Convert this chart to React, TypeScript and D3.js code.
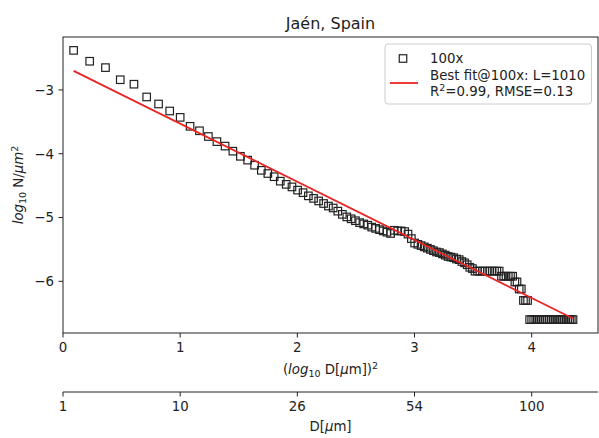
import React from "react";
import * as d3 from "d3";

const diameters: number[] = d3.range(2, 123);
const logDensity: number[] = [
  -2.38, -2.55, -2.65, -2.84, -2.91, -3.11, -3.22, -3.33, -3.43, -3.57,
  -3.64, -3.73, -3.81, -3.88, -3.96, -4.04, -4.10, -4.18, -4.26, -4.31,
  -4.36, -4.43, -4.48, -4.52, -4.57, -4.61, -4.66, -4.70, -4.74, -4.78,
  -4.82, -4.85, -4.90, -4.95, -4.99, -5.02, -5.05, -5.08, -5.10, -5.12,
  -5.15, -5.17, -5.19, -5.21, -5.23, -5.25, -5.20, -5.21, -5.21, -5.22,
  -5.26, -5.33, -5.40, -5.42, -5.44, -5.46, -5.48, -5.50, -5.52, -5.54,
  -5.55, -5.57, -5.59, -5.61, -5.62, -5.63, -5.65, -5.66, -5.69, -5.71,
  -5.74, -5.78, -5.80,
  -5.84, -5.84, -5.84, -5.84, -5.84, -5.84, -5.84, -5.84, -5.84, -5.84, -5.84,
  -5.92, -5.92, -5.92, -5.92, -5.92, -5.92,
  -6.01, -6.01, -6.12, -6.12, -6.30, -6.30, -6.30,
  -6.60, -6.60, -6.60, -6.60, -6.60, -6.60, -6.60, -6.60, -6.60, -6.60, -6.60, -6.60,
  -6.60, -6.60, -6.60, -6.60, -6.60, -6.60, -6.60, -6.60, -6.60, -6.60, -6.60, -6.60,
];
const fitIntercept = -2.618;
const fitSlope = -0.911;
const xTicks: number[] = [0, 1, 2, 3, 4];
const yTicks: number[] = [-3, -4, -5, -6];
const dTickLabels: string[] = ["1", "10", "26", "54", "100"];

const FONT = "DejaVu Sans, sans-serif";
const INK = "#222";
const RED = "#ec2323";
const FS = 13.33;

export default function App() {
  const left = 63, right = 598, top = 37, bottom = 333;
  const x = d3.scaleLinear().domain([0, 4.566]).range([left, right]);
  const y = d3.scaleLinear().domain([-6.81, -2.17]).range([bottom, top]);
  const pts = diameters.map((d, i) => ({ xv: Math.pow(Math.log10(d), 2), yv: logDensity[i] }));
  const xMin = d3.min(pts, (p) => p.xv)!;
  const xMax = d3.max(pts, (p) => p.xv)!;
  const line = d3.line<number>().x((v) => x(v)).y((v) => y(fitIntercept + fitSlope * v));
  const ms = 7.5;
  const secY = 392;
  const tl = 4.5;

  return (
    <svg width={599} height={438} style={{ position: "absolute", left: 0, top: 0, background: "#fff" }} fontFamily={FONT}>
      <rect x={0} y={0} width={599} height={438} fill="#fff" />
      <text x={(left + right) / 2} y={29} textAnchor="middle" fontSize={16} fill={INK}>Jaén, Spain</text>

      {pts.map((p, i) => (
        <rect key={i} x={x(p.xv) - ms / 2} y={y(p.yv) - ms / 2} width={ms} height={ms}
          fill="none" stroke={INK} strokeWidth={1.2} />
      ))}
      <path d={line([xMin, xMax]) || ""} stroke={RED} strokeWidth={1.8} fill="none" />

      <rect x={left} y={top} width={right - left} height={bottom - top} fill="none" stroke={INK} strokeWidth={1} />

      {xTicks.map((t) => (
        <g key={t}>
          <line x1={x(t)} x2={x(t)} y1={bottom} y2={bottom + tl} stroke={INK} />
          <text x={x(t)} y={bottom + 19} textAnchor="middle" fontSize={FS} fill={INK}>{t}</text>
        </g>
      ))}
      {yTicks.map((t) => (
        <g key={t}>
          <line x1={left - tl} x2={left} y1={y(t)} y2={y(t)} stroke={INK} />
          <text x={left - 9} y={y(t) + 4.8} textAnchor="end" fontSize={FS} fill={INK}>{"\u2212" + Math.abs(t)}</text>
        </g>
      ))}

      <text x={(left + right) / 2} y={374} textAnchor="middle" fontSize={FS} fill={INK}>
        (<tspan fontStyle="italic">log</tspan><tspan fontSize={9.5} dy={3}>10</tspan><tspan dy={-3}> D[</tspan><tspan fontStyle="italic">μ</tspan>m])<tspan fontSize={9.5} dy={-5.5}>2</tspan>
      </text>

      <g transform={`translate(23,${(top + bottom) / 2}) rotate(-90)`}>
        <text x={0} y={0} textAnchor="middle" fontSize={FS} fill={INK}>
          <tspan fontStyle="italic">log</tspan><tspan fontSize={9.5} dy={3}>10</tspan><tspan dy={-3}> N/</tspan><tspan fontStyle="italic">μm</tspan><tspan fontSize={9.5} dy={-5.5}>2</tspan>
        </text>
      </g>

      <line x1={left} x2={right} y1={secY} y2={secY} stroke={INK} />
      {xTicks.map((t, i) => (
        <g key={"s" + t}>
          <line x1={x(t)} x2={x(t)} y1={secY} y2={secY + tl} stroke={INK} />
          <text x={x(t)} y={secY + 19} textAnchor="middle" fontSize={FS} fill={INK}>{dTickLabels[i]}</text>
        </g>
      ))}
      <text x={(left + right) / 2} y={431} textAnchor="middle" fontSize={FS} fill={INK}>
        D[<tspan fontStyle="italic">μ</tspan>m]
      </text>

      <g>
        <rect x={385} y={44} width={206.5} height={60} rx={3} fill="#fff" fillOpacity={0.8} stroke="#ccc" strokeWidth={1} />
        <rect x={403 - ms / 2} y={58.5 - ms / 2} width={ms} height={ms} fill="none" stroke={INK} strokeWidth={1.2} />
        <text x={430} y={63} fontSize={FS} fill={INK}>100x</text>
        <line x1={390} x2={418} y1={83} y2={83} stroke={RED} strokeWidth={1.8} />
        <text x={430} y={80} fontSize={FS} fill={INK}>Best fit@100x: L=1010</text>
        <text x={430} y={96} fontSize={FS} fill={INK}>
          R<tspan fontSize={9.5} dy={-5.5}>2</tspan><tspan dy={5.5}>=0.99, RMSE=0.13</tspan>
        </text>
      </g>
    </svg>
  );
}
